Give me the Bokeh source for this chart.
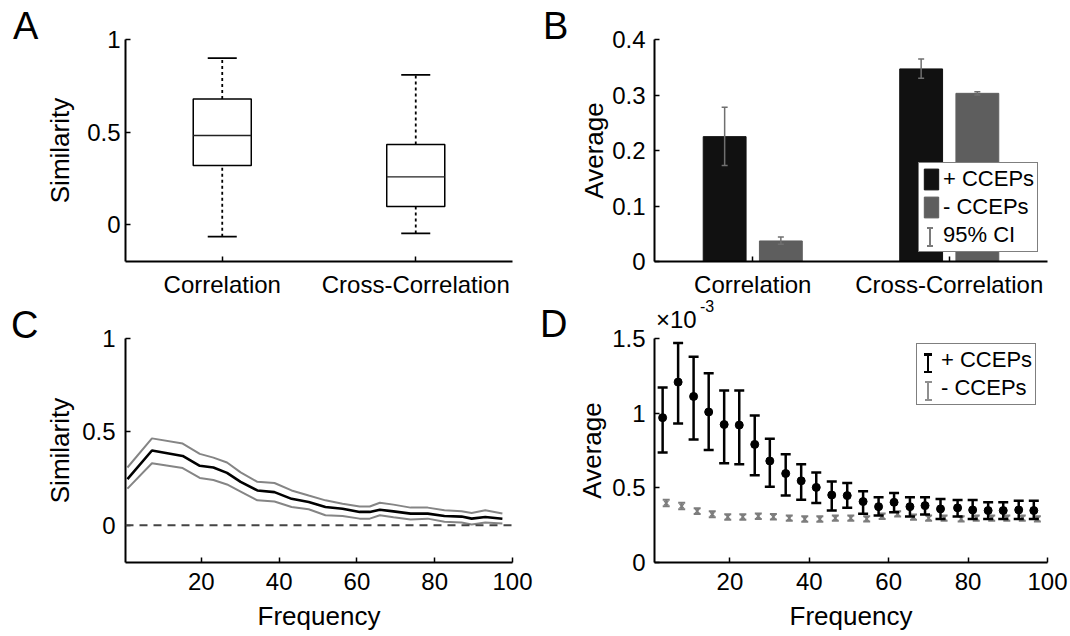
import numpy as np
from bokeh.plotting import figure
from bokeh.models import (Range1d, FixedTicker, CustomJSTickFormatter, Span,
                          Legend, LegendItem, GridBox, Div)
from bokeh.embed import file_html
from bokeh.resources import INLINE

FONT = "Liberation Sans"

# ---------------- Panel A: box plots ----------------
box_categories = ["Correlation", "Cross-Correlation"]
box_whisker_low = [-0.066, -0.048]
box_q1 = [0.319, 0.097]
box_median = [0.481, 0.257]
box_q3 = [0.678, 0.432]
box_whisker_high = [0.899, 0.809]

# ---------------- Panel B: grouped bars ----------------
bar_categories = ["Correlation", "Cross-Correlation"]
pos_avg = [0.225, 0.347]
pos_ci_low = [0.173, 0.330]
pos_ci_high = [0.278, 0.365]
neg_avg = [0.037, 0.303]
neg_ci_low = [0.031, 0.300]
neg_ci_high = [0.044, 0.306]

# ---------------- Panel C: similarity vs frequency ----------------
freq_c = [1, 7.3, 15.2, 19.6, 23.1, 26.6, 30.1, 34.4, 38.8, 43.2, 47.6, 51.9,
          56.3, 60.7, 63.3, 65.9, 69.4, 73.8, 78.2, 82.5, 86.9, 89.5, 93.0, 97.4]
sim_mean = [0.247, 0.400, 0.371, 0.318, 0.309, 0.280, 0.232, 0.186, 0.177, 0.141, 0.124, 0.097,
            0.088, 0.071, 0.071, 0.083, 0.074, 0.062, 0.062, 0.049, 0.046, 0.035, 0.044, 0.034]
sim_upper = [0.309, 0.465, 0.437, 0.382, 0.362, 0.336, 0.283, 0.232, 0.226, 0.186, 0.159, 0.133,
             0.115, 0.100, 0.100, 0.120, 0.110, 0.094, 0.094, 0.080, 0.074, 0.065, 0.080, 0.062]
sim_lower = [0.196, 0.332, 0.306, 0.253, 0.242, 0.218, 0.180, 0.133, 0.127, 0.097, 0.085, 0.053,
             0.049, 0.035, 0.035, 0.053, 0.042, 0.030, 0.035, 0.018, 0.014, 0.004, 0.014, 0.009]

# ---------------- Panel D: average vs frequency (x 1e-3) ----------------
freq_d = [3.5, 7.4, 11.3, 15.1, 19.0, 22.8, 26.7, 30.5, 34.5, 38.4, 42.2, 46.1, 50.0,
          54.0, 57.9, 61.8, 65.8, 69.6, 73.5, 77.8, 81.6, 85.5, 89.3, 93.2, 97.0]
d_pos_mean = [0.970, 1.208, 1.112, 1.008, 0.924, 0.920, 0.791, 0.680, 0.596, 0.547, 0.503, 0.452, 0.448,
              0.408, 0.374, 0.403, 0.374, 0.381, 0.359, 0.366, 0.352, 0.348, 0.348, 0.352, 0.348]
d_pos_high = [1.172, 1.470, 1.378, 1.267, 1.152, 1.152, 0.984, 0.829, 0.725, 0.658, 0.603, 0.543, 0.532,
              0.477, 0.437, 0.465, 0.437, 0.437, 0.425, 0.419, 0.419, 0.403, 0.403, 0.414, 0.414]
d_pos_low = [0.737, 0.930, 0.824, 0.753, 0.665, 0.658, 0.585, 0.507, 0.448, 0.421, 0.399, 0.348, 0.366,
             0.326, 0.315, 0.337, 0.308, 0.321, 0.292, 0.308, 0.292, 0.292, 0.292, 0.292, 0.292]
d_neg_mean = [0.398, 0.378, 0.344, 0.323, 0.305, 0.305, 0.310, 0.306, 0.297, 0.291, 0.291, 0.297, 0.297,
              0.292, 0.310, 0.326, 0.304, 0.297, 0.297, 0.292, 0.297, 0.297, 0.297, 0.297, 0.292]
d_neg_err = [0.022, 0.022, 0.020, 0.020, 0.018, 0.018, 0.018, 0.018, 0.018, 0.018, 0.018, 0.018, 0.018,
             0.018, 0.018, 0.018, 0.018, 0.018, 0.018, 0.018, 0.018, 0.018, 0.018, 0.018, 0.018]

legend_b_labels = ["+ CCEPs", "- CCEPs", "95% CI"]
legend_d_labels = ["+ CCEPs", "- CCEPs"]

# ---------------- layout constants (pixels) ----------------
COL_W = 535
ROW1_H, ROW2_H = 308, 328
LEG_PAD, LEG_GH, LEG_SP, LEG_GW = 3, 26, 2, 18

num_fmt = CustomJSTickFormatter(code="return String(Math.round(tick*1000)/1000);")


def cat_fmt(labels):
    return CustomJSTickFormatter(args=dict(labels=labels), code="""
        const i = Math.round(tick) - 1;
        return (i >= 0 && i < labels.length) ? labels[i] : '';
    """)


def make_fig(w, h, bl, br, bt, bb, xr, yr, xs, ys, ys_lab, xs_lab=8):
    p = figure(width=w, height=h, x_range=Range1d(*xr), y_range=Range1d(*yr),
               output_backend="svg", toolbar_location=None,
               min_border_left=bl, min_border_right=br,
               min_border_top=bt, min_border_bottom=bb)
    p.xgrid.visible = False
    p.ygrid.visible = False
    p.outline_line_color = None
    p.background_fill_color = "white"
    p.border_fill_color = "white"
    for ax in (p.xaxis[0], p.yaxis[0]):
        ax.axis_line_width = 2
        ax.axis_line_color = "black"
        ax.major_tick_in = 5
        ax.major_tick_out = 0
        ax.major_tick_line_width = 1.5
        ax.minor_tick_in = 0
        ax.minor_tick_out = 0
        ax.major_label_text_font = FONT
        ax.major_label_text_font_size = "24px"
        ax.major_label_text_color = "black"
        ax.axis_label_text_font = FONT
        ax.axis_label_text_font_size = "26px"
        ax.axis_label_text_font_style = "normal"
        ax.axis_label_text_color = "black"
    p.xaxis[0].major_label_standoff = xs
    p.yaxis[0].major_label_standoff = ys
    p.yaxis[0].axis_label_standoff = ys_lab
    p.xaxis[0].axis_label_standoff = xs_lab
    return p


def style_legend(lg):
    lg.border_line_color = "black"
    lg.border_line_width = 1.5
    lg.background_fill_color = "white"
    lg.background_fill_alpha = 1.0
    lg.label_text_font = FONT
    lg.label_text_font_size = "22px"
    lg.label_text_color = "black"
    lg.padding = LEG_PAD
    lg.spacing = LEG_SP
    lg.margin = 0
    lg.glyph_width = LEG_GW
    lg.glyph_height = LEG_GH
    lg.label_height = LEG_GH
    lg.label_standoff = 3


# ======== Panel A ========
A_B = dict(bl=125, br=21, bt=35, bb=47)
pA = make_fig(COL_W, ROW1_H, xr=(0.5, 2.5), yr=(-0.2, 1.0), xs=9, ys=5, ys_lab=9, **A_B)
posA = np.arange(1, len(box_categories) + 1, dtype=float)
bw = 0.30
cw = 0.075
pA.vbar(x=posA, bottom=box_q1, top=box_q3, width=bw, fill_color="white",
        line_color="black", line_width=1.5)
pA.segment(x0=posA - bw / 2, x1=posA + bw / 2, y0=box_median, y1=box_median,
           line_color="#222222", line_width=1.3)
pA.segment(x0=posA, y0=box_q3, x1=posA, y1=box_whisker_high, line_color="black",
           line_width=1.8, line_dash="3 3")
pA.segment(x0=posA, y0=box_whisker_low, x1=posA, y1=box_q1, line_color="black",
           line_width=1.8, line_dash="3 3")
pA.segment(x0=posA - cw, x1=posA + cw, y0=box_whisker_high, y1=box_whisker_high,
           line_color="black", line_width=1.8)
pA.segment(x0=posA - cw, x1=posA + cw, y0=box_whisker_low, y1=box_whisker_low,
           line_color="black", line_width=1.8)
pA.xaxis.ticker = FixedTicker(ticks=list(posA))
pA.xaxis.formatter = cat_fmt(box_categories)
pA.yaxis.ticker = FixedTicker(ticks=[0, 0.5, 1])
pA.yaxis.formatter = num_fmt
pA.yaxis.axis_label = "Similarity"

# ======== Panel B ========
B_B = dict(bl=119, br=21, bt=39, bb=46)
pB = make_fig(COL_W, ROW1_H, xr=(0.5, 2.5), yr=(0.0, 0.4), xs=9, ys=9, ys_lab=0, **B_B)
posB = np.arange(1, len(bar_categories) + 1, dtype=float)
dodge = 0.143
bwidth = 0.218
r_pos = pB.vbar(x=posB - dodge, top=pos_avg, width=bwidth, fill_color="#111111",
                line_color="#111111")
r_neg = pB.vbar(x=posB + dodge, top=neg_avg, width=bwidth, fill_color="#5e5e5e",
                line_color="#5e5e5e")
for xs_, lo, hi in ((posB - dodge, pos_ci_low, pos_ci_high), (posB + dodge, neg_ci_low, neg_ci_high)):
    pB.segment(x0=xs_, y0=lo, x1=xs_, y1=hi, line_color="#6f6f6f", line_width=1.5)
    pB.scatter(x=xs_, y=hi, marker="dash", size=6, line_color="#6f6f6f", line_width=1.5)
    pB.scatter(x=xs_, y=lo, marker="dash", size=6, line_color="#6f6f6f", line_width=1.5)
r_ci = pB.vbar(x=[], top=[], width=0.1, fill_alpha=0, line_alpha=0)
pB.xaxis.ticker = FixedTicker(ticks=list(posB))
pB.xaxis.formatter = cat_fmt(bar_categories)
pB.yaxis.ticker = FixedTicker(ticks=[0, 0.1, 0.2, 0.3, 0.4])
pB.yaxis.formatter = num_fmt
pB.yaxis.axis_label = "Average"
legB_loc = (264, 9)
legB = Legend(items=[LegendItem(label=legend_b_labels[0], renderers=[r_pos]),
                     LegendItem(label=legend_b_labels[1], renderers=[r_neg]),
                     LegendItem(label=legend_b_labels[2], renderers=[r_ci])],
              location=legB_loc)
style_legend(legB)
pB.add_layout(legB)

# ======== Panel C ========
C_B = dict(bl=123, br=23, bt=28, bb=74)
pC = make_fig(COL_W, ROW2_H, xr=(0.5, 100), yr=(-0.2, 1.0), xs=10, ys=10, ys_lab=4, **C_B)
pC.add_layout(Span(location=0, dimension="width", line_color="#444444",
                   line_dash="8 6", line_width=2))
pC.line(freq_c, sim_upper, line_color="#858585", line_width=2)
pC.line(freq_c, sim_lower, line_color="#858585", line_width=2)
pC.line(freq_c, sim_mean, line_color="black", line_width=2.6)
pC.xaxis.ticker = FixedTicker(ticks=[20, 40, 60, 80, 100])
pC.yaxis.ticker = FixedTicker(ticks=[0, 0.5, 1])
pC.yaxis.formatter = num_fmt
pC.xaxis.axis_label = "Frequency"
pC.yaxis.axis_label = "Similarity"

# ======== Panel D ========
D_B = dict(bl=119, br=23, bt=30, bb=72)
pD = make_fig(COL_W, ROW2_H, xr=(1, 100), yr=(0.0, 1.5), xs=10, ys=9, ys_lab=2, **D_B)
fd = np.array(freq_d)
xp = fd - 0.45
xn = fd + 0.45
neg_m = np.array(d_neg_mean)
neg_e = np.array(d_neg_err)
pD.segment(x0=xn, y0=neg_m - neg_e, x1=xn, y1=neg_m + neg_e, line_color="#7d7d7d", line_width=2)
pD.scatter(x=xn, y=neg_m + neg_e, marker="dash", size=7, line_color="#7d7d7d", line_width=2)
pD.scatter(x=xn, y=neg_m - neg_e, marker="dash", size=7, line_color="#7d7d7d", line_width=2)
pD.scatter(x=xn, y=neg_m, marker="x", size=6, line_color="#7d7d7d", line_width=1.5)
pD.segment(x0=xp, y0=d_pos_low, x1=xp, y1=d_pos_high, line_color="black", line_width=2.5)
pD.scatter(x=xp, y=d_pos_high, marker="dash", size=10, line_color="black", line_width=2.5)
pD.scatter(x=xp, y=d_pos_low, marker="dash", size=10, line_color="black", line_width=2.5)
pD.scatter(x=xp, y=d_pos_mean, marker="circle", size=8, fill_color="black", line_color="black")
r_dpos = pD.vbar(x=[], top=[], width=0.1, fill_alpha=0, line_alpha=0)
r_dneg = pD.vbar(x=[], top=[], width=0.1, fill_alpha=0, line_alpha=0)
pD.xaxis.ticker = FixedTicker(ticks=[20, 40, 60, 80, 100])
pD.yaxis.ticker = FixedTicker(ticks=[0, 0.5, 1, 1.5])
pD.yaxis.formatter = num_fmt
pD.xaxis.axis_label = "Frequency"
pD.yaxis.axis_label = "Average"
legD_loc = (262, 157)
legD = Legend(items=[LegendItem(label=legend_d_labels[0], renderers=[r_dpos]),
                     LegendItem(label=legend_d_labels[1], renderers=[r_dneg])],
              location=legD_loc)
style_legend(legD)
pD.add_layout(legD)


# ======== HTML overlay: panel letters, exponent, errorbar legend icons ========
def span(txt, left, top, size):
    return ('<span style="position:absolute; left:%.1fpx; top:%.1fpx; font-size:%dpx; '
            'line-height:%dpx; white-space:nowrap;">%s</span>' % (left, top, size, size, txt))


def box(left, top, w, h, color):
    return ('<div style="position:absolute; left:%.1fpx; top:%.1fpx; width:%.1fpx; '
            'height:%.1fpx; background:%s;"></div>' % (left, top, w, h, color))


def ibeam(canvas_x, canvas_y, borders, frame_h, loc, n_rows, row, color, lw, cap):
    frame_left = canvas_x + borders["bl"]
    frame_bottom = canvas_y + borders["bt"] + frame_h
    leg_h = 2 * LEG_PAD + n_rows * LEG_GH + (n_rows - 1) * LEG_SP
    leg_top = frame_bottom - loc[1] - leg_h
    row_top = leg_top + LEG_PAD + row * (LEG_GH + LEG_SP)
    top, bot = row_top + 3, row_top + LEG_GH - 3
    cx = frame_left + loc[0] + LEG_PAD + LEG_GW / 2
    return (box(cx - lw / 2, top, lw, bot - top, color)
            + box(cx - cap / 2, top, cap, lw, color)
            + box(cx - cap / 2, bot - lw, cap, lw, color))


B_frame_h = ROW1_H - B_B["bt"] - B_B["bb"]
D_frame_h = ROW2_H - D_B["bt"] - D_B["bb"]

overlay_html = (
    '<div style="position:relative; width:1070px; height:636px; z-index:10; '
    "font-family:'Liberation Sans', Arial, sans-serif; color:#000; pointer-events:none;\">"
    + span("A", 13, 7.3, 38)
    + span("B", 543, 7.3, 38)
    + span("C", 11, 306.3, 38)
    + span("D", 540, 305.3, 38)
    + span("\u00d710", 656, 308, 24)
    + span("-3", 700, 298.5, 16)
    + ibeam(COL_W, 0, B_B, B_frame_h, legB_loc, 3, 2, "#7a7a7a", 2, 6)
    + ibeam(COL_W, ROW1_H, D_B, D_frame_h, legD_loc, 2, 0, "#000000", 2.5, 8)
    + ibeam(COL_W, ROW1_H, D_B, D_frame_h, legD_loc, 2, 1, "#8f8f8f", 2, 7)
    + "</div>"
)
overlay = Div(text=overlay_html, width=1070, height=636, margin=0)

grid = GridBox(children=[(pA, 0, 0), (pB, 0, 1), (pC, 1, 0), (pD, 1, 1),
                         (overlay, 0, 0, 2, 2)], spacing=0)

open("out.html", "w").write(file_html(grid, INLINE))
